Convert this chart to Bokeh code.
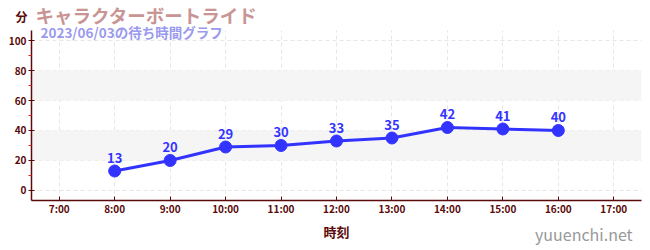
from bokeh.plotting import figure
from bokeh.models import (ColumnDataSource, FixedTicker, BoxAnnotation, Label, Range1d,
                          LabelSet, LinearAxis)
from bokeh.core.properties import value
from bokeh.embed import file_html
from bokeh.resources import INLINE

title = "キャラクターボートライド"
subtitle = "2023/06/03の待ち時間グラフ"
y_unit = "分"
x_name = "時刻"
credit = "yuuenchi.net"
hours = [8, 9, 10, 11, 12, 13, 14, 15, 16]
waits = [13, 20, 29, 30, 33, 35, 42, 41, 40]
tick_hours = [7, 8, 9, 10, 11, 12, 13, 14, 15, 16, 17]
tick_labels = [f"{h}:00" for h in tick_hours]
y_ticks = [0, 20, 40, 60, 80, 100]
y_minor = [10, 30, 50, 70, 90]

FONT = "Noto Sans CJK JP"
MAROON = "#5a0a0a"
BLUE = "#3333ff"

# plot value limits (axis extent) and extra headroom for the title area
Y_LO, Y_HI = -6.67, 106.67
Y_TOP = 126.67
UNIT_POS = 116.0      # where the unit label sits (above the axis)
CREDIT_POS = 16.46    # where the credit text sits along x

src = ColumnDataSource(dict(x=hours, y=waits, t=[str(v) for v in waits]))

p = figure(width=650, height=250, output_backend="svg", toolbar_location=None,
           x_range=Range1d(6.5, 17.5), y_range=Range1d(Y_LO, Y_TOP),
           min_border_left=31, min_border_right=9, min_border_top=0, min_border_bottom=50)
p.outline_line_color = None
p.background_fill_color = "white"

for b, t in [(20, 40), (60, 80)]:
    p.add_layout(BoxAnnotation(bottom=b, top=t, fill_color="#f5f5f5", fill_alpha=1,
                               line_color=None, level="underlay"))

p.xgrid.ticker = FixedTicker(ticks=tick_hours)
p.ygrid.ticker = FixedTicker(ticks=y_ticks)
for g in (p.xgrid, p.ygrid):
    g.grid_line_color = "#e6e6e6"
    g.grid_line_dash = "4 3"
    g.grid_line_width = 1
# blank the area above the axis extent (title area)
p.add_layout(BoxAnnotation(bottom=Y_HI, fill_color="white", fill_alpha=1,
                           line_color=None, level="underlay"))

p.xaxis.ticker = FixedTicker(ticks=tick_hours)
p.xaxis.major_label_overrides = {h: l for h, l in zip(tick_hours, tick_labels)}
p.yaxis.ticker = FixedTicker(ticks=y_ticks, minor_ticks=y_minor)
p.yaxis.bounds = (Y_LO, Y_HI)

for ax in (p.xaxis, p.yaxis):
    ax.axis_line_color = MAROON
    ax.axis_line_width = 1.5
    ax.major_tick_line_color = MAROON
    ax.major_label_text_color = MAROON
    ax.major_label_text_font = FONT
    ax.major_label_text_font_size = "10px"
    ax.major_label_text_font_style = "bold"

p.xaxis.major_tick_in = 4
p.xaxis.major_tick_out = 0
p.xaxis.minor_tick_line_color = None
p.xaxis.major_label_standoff = 0
p.xaxis.axis_label = x_name
p.xaxis.axis_label_text_font = FONT
p.xaxis.axis_label_text_font_size = "13px"
p.xaxis.axis_label_text_font_style = "bold"
p.xaxis.axis_label_text_color = MAROON
p.xaxis.axis_label_standoff = 3

p.yaxis.major_tick_in = 3
p.yaxis.major_tick_out = 3
p.yaxis.minor_tick_in = 0
p.yaxis.minor_tick_out = 3
p.yaxis.minor_tick_line_color = "#dd2222"
p.yaxis.major_label_standoff = 2

# unit label "分" as an extra, line-less left axis
unit_axis = LinearAxis(ticker=FixedTicker(ticks=[UNIT_POS]),
                       major_label_overrides={UNIT_POS: y_unit},
                       axis_line_color=None, major_tick_line_color=None,
                       minor_tick_line_color=None, major_tick_in=0, major_tick_out=0,
                       minor_tick_in=0, minor_tick_out=0, major_label_standoff=-22,
                       major_label_text_font=FONT, major_label_text_font_size="12px",
                       major_label_text_font_style="bold", major_label_text_color=MAROON)
p.add_layout(unit_axis, "left")

# credit text as an extra, line-less bottom axis
credit_axis = LinearAxis(ticker=FixedTicker(ticks=[CREDIT_POS]),
                         major_label_overrides={CREDIT_POS: credit},
                         axis_line_color=None, major_tick_line_color=None,
                         minor_tick_line_color=None, major_tick_in=0, major_tick_out=0,
                         minor_tick_in=0, minor_tick_out=0, major_label_standoff=-22,
                         major_label_text_font=FONT, major_label_text_font_size="16px",
                         major_label_text_color="#999999")
p.add_layout(credit_axis, "below")

p.line("x", "y", source=src, line_color=BLUE, line_width=3)
p.scatter("x", "y", source=src, size=12, fill_color=BLUE, line_color=BLUE)
p.add_layout(LabelSet(x="x", y="y", text="t", source=src, y_offset=8, text_align="center",
                      text_font=value(FONT), text_font_size="13px", text_font_style="bold",
                      text_color=BLUE))

p.add_layout(Label(x=35, y=14, x_units="canvas", y_units="canvas", text=title,
                   text_font=FONT, text_font_size="18.5px", text_font_style="bold",
                   text_color="#c89494", text_baseline="middle"))
p.add_layout(Label(x=40, y=31, x_units="canvas", y_units="canvas", text=subtitle,
                   text_font=FONT, text_font_size="13.5px", text_font_style="bold",
                   text_color="#9a9aee", text_baseline="middle"))

open("out.html", "w").write(file_html(p, INLINE))
